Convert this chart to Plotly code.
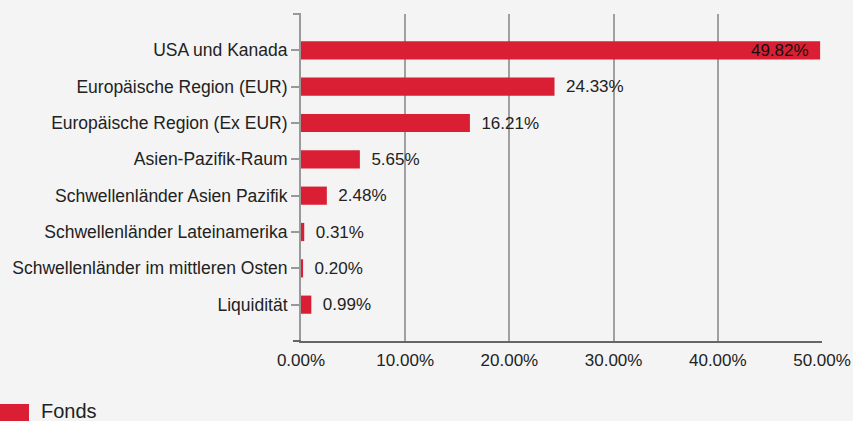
import plotly.graph_objects as go

categories = [
    "USA und Kanada",
    "Europäische Region (EUR)",
    "Europäische Region (Ex EUR)",
    "Asien-Pazifik-Raum",
    "Schwellenländer Asien Pazifik",
    "Schwellenländer Lateinamerika",
    "Schwellenländer im mittleren Osten",
    "Liquidität",
]
values = [49.82, 24.33, 16.21, 5.65, 2.48, 0.31, 0.20, 0.99]
series_name = "Fonds"
x_ticks = [0, 10, 20, 30, 40, 50]
x_ticktext = ["0.00%", "10.00%", "20.00%", "30.00%", "40.00%", "50.00%"]

BAR = "#DA1F35"
FONT = "Liberation Sans, Arial, sans-serif"
TXT = "#222222"
BG = "#F4F4F4"

positions = ["inside" if v > 45 else "outside" for v in values]
templates = ["%{x:.2f}%\u2002" if p == "inside" else "\u2002%{x:.2f}%" for p in positions]

fig = go.Figure()
fig.add_trace(go.Bar(
    x=values,
    y=list(range(len(categories))),
    orientation="h",
    name=series_name,
    marker=dict(color=BAR, line=dict(width=0)),
    width=0.5,
    texttemplate=templates,
    textposition=positions,
    insidetextanchor="end",
    constraintext="none",
    insidetextfont=dict(color="#111111", size=17, family=FONT),
    outsidetextfont=dict(color=TXT, size=17, family=FONT),
    cliponaxis=False,
    showlegend=False,
    hoverinfo="skip",
))

W, H = 853, 421
L, R, T, B = 301, 31, 14, 80
pw = W - L - R
ph = H - T - B


def py(pix):
    """convert a pixel row (from top) to paper y"""
    return (T + ph - pix) / ph


fig.update_layout(
    width=W, height=H,
    margin=dict(l=L, r=R, t=T, b=B, pad=0, autoexpand=False),
    paper_bgcolor=BG, plot_bgcolor=BG,
    font=dict(family=FONT, size=17, color=TXT),
    xaxis=dict(
        range=[0, 50], tickvals=x_ticks, ticktext=x_ticktext,
        showgrid=True, gridcolor="#A0A0A0", gridwidth=2,
        showline=True, linecolor="#666666", linewidth=2,
        ticks="", ticklabelstandoff=3, zeroline=False, automargin=False,
        tickfont=dict(size=17, color=TXT),
    ),
    yaxis=dict(
        range=[len(categories), -1],
        tickvals=list(range(len(categories))), ticktext=categories,
        showgrid=False, zeroline=False, automargin=False,
        showline=True, linecolor="#999999", linewidth=2,
        ticks="outside", ticklen=8, tickwidth=2, tickcolor="#999999",
        tickfont=dict(size=17.5, color=TXT),
    ),
    shapes=[
        dict(type="line", xref="paper", yref="paper",
             x0=-8 / pw, x1=0, y0=1, y1=1,
             line=dict(color="#999999", width=2)),
        dict(type="line", xref="paper", yref="paper",
             x0=-8 / pw, x1=0, y0=0, y1=0,
             line=dict(color="#666666", width=2)),
        dict(type="rect", xref="paper", yref="paper",
             x0=-L / pw, x1=(-L + 29) / pw,
             y0=py(H + 3), y1=py(404),
             fillcolor=BAR, line=dict(width=0)),
    ],
    annotations=[
        dict(xref="paper", yref="paper", x=(-L + 39) / pw, y=py(411),
             xanchor="left", yanchor="middle", text=series_name, showarrow=False,
             font=dict(size=20, color=TXT, family=FONT)),
    ],
)

fig.write_html(
    "out.html",
    config={"displayModeBar": False},
    post_script="document.body.style.margin='0';document.body.style.overflow='hidden';",
)
